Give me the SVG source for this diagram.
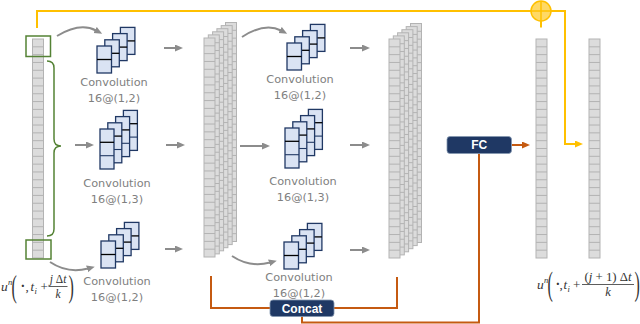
<svg xmlns="http://www.w3.org/2000/svg" width="640" height="324" viewBox="0 0 640 324">
<style>
.lbl{font-family:'DejaVu Sans','Open Sans',sans-serif;font-size:11.3px;fill:#7f7f7f;text-anchor:middle}
.box{fill:#1f3864;stroke:#8497b0;stroke-width:0.8}
.btxt{font-family:'Liberation Sans',Arial,sans-serif;font-weight:bold;fill:#ffffff;text-anchor:middle}
.m{font-family:'Liberation Serif','DejaVu Serif',serif;fill:#333333}
.mi{font-family:'Liberation Serif','DejaVu Serif',serif;font-style:italic;fill:#333333}
.gray{fill:none;stroke:#8c8c8c;stroke-width:2}
.orange{fill:none;stroke:#c55a11;stroke-width:2}
.yellow{fill:none;stroke:#ffc000;stroke-width:2}
.green{fill:none;stroke:#548235;stroke-width:1.5}
</style>
<defs>
<marker id="ag" markerUnits="userSpaceOnUse" markerWidth="9" markerHeight="8" refX="1" refY="3.5" orient="auto"><path d="M0,0 L8,3.5 L0,7 z" fill="#8c8c8c"/></marker>
<marker id="ao" markerUnits="userSpaceOnUse" markerWidth="9" markerHeight="8" refX="1" refY="3.5" orient="auto"><path d="M0,0 L8,3.5 L0,7 z" fill="#c55a11"/></marker>
<marker id="ay" markerUnits="userSpaceOnUse" markerWidth="9" markerHeight="8" refX="1" refY="3.5" orient="auto"><path d="M0,0 L8,3.5 L0,7 z" fill="#ffc000"/></marker>
<g id="col">
<rect x="0" y="0" width="11" height="219" fill="#dcdcdc" stroke="#b3b3b3" stroke-width="1"/>
<path d="M0 7.82h11M0 15.64h11M0 23.46h11M0 31.29h11M0 39.11h11M0 46.93h11M0 54.75h11M0 62.57h11M0 70.39h11M0 78.21h11M0 86.04h11M0 93.86h11M0 101.68h11M0 109.5h11M0 117.32h11M0 125.14h11M0 132.96h11M0 140.79h11M0 148.61h11M0 156.43h11M0 164.25h11M0 172.07h11M0 179.89h11M0 187.71h11M0 195.54h11M0 203.36h11M0 211.18h11" stroke="#b3b3b3" stroke-width="1" fill="none"/>
</g>
<g id="s2">
<rect x="0" y="0" width="14.5" height="27" fill="#dae3f3" stroke="#203864" stroke-width="1.3"/>
<line x1="0" y1="13.5" x2="14.5" y2="13.5" stroke="#000000" stroke-width="1.3"/>
</g>
<g id="s3">
<rect x="0" y="0" width="14" height="40" fill="#dae3f3" stroke="#203864" stroke-width="1.3"/>
<line x1="0" y1="13.3" x2="14" y2="13.3" stroke="#000000" stroke-width="1.3"/>
<line x1="0" y1="26.7" x2="14" y2="26.7" stroke="#203864" stroke-width="1.1"/>
</g>
</defs>
<rect width="640" height="324" fill="#ffffff"/>

<g id="connectors">
<path class="yellow" d="M37 28 V11 H565 V144 H576" marker-end="url(#ay)"/>
<line class="yellow" x1="541" y1="21" x2="541" y2="27.5"/>
<path class="gray" d="M57 36 Q80 22 96 30.5" marker-end="url(#ag)"/>
<path class="gray" d="M50 262 Q68 274 88 268.5" marker-end="url(#ag)"/>
<line class="gray" x1="164" y1="48" x2="176" y2="48" marker-end="url(#ag)"/>
<line class="gray" x1="75" y1="145" x2="87" y2="145" marker-end="url(#ag)"/>
<line class="gray" x1="166" y1="145" x2="178" y2="145" marker-end="url(#ag)"/>
<line class="gray" x1="165" y1="249" x2="176" y2="249" marker-end="url(#ag)"/>
<path class="gray" d="M242 37 Q265 22 281 30.5" marker-end="url(#ag)"/>
<line class="gray" x1="240" y1="146" x2="263" y2="146" marker-end="url(#ag)"/>
<path class="gray" d="M232 256 Q250 268 270 262.5" marker-end="url(#ag)"/>
<line class="gray" x1="350" y1="48" x2="363" y2="48" marker-end="url(#ag)"/>
<line class="gray" x1="350" y1="145" x2="363" y2="145" marker-end="url(#ag)"/>
<line class="gray" x1="350" y1="250" x2="363" y2="250" marker-end="url(#ag)"/>
<path class="orange" d="M211 276 V308 H270"/>
<path class="orange" d="M334 308 H397 V277"/>
<path class="orange" d="M302 316.5 V322.5 H479 V153.5"/>
<line class="orange" x1="511.5" y1="145" x2="523" y2="145" marker-end="url(#ao)"/>
</g>

<g id="input-column">
<use href="#col" x="32.5" y="39"/>
<rect class="green" x="26" y="36" width="24.5" height="20.5"/>
<rect class="green" x="26" y="240" width="25" height="19"/>
<path class="green" d="M47 61 Q54 61 54 68 V139 Q54 146 61 146 Q54 146 54 153 V229 Q54 236 47 236"/>
</g>

<g id="sum">
<circle cx="541" cy="11" r="10" fill="#ffd966" stroke="#ffc000" stroke-width="1.5"/>
<line x1="531" y1="11" x2="551" y2="11" stroke="#ffc000" stroke-width="1.5"/>
<line x1="541" y1="1" x2="541" y2="21" stroke="#ffc000" stroke-width="1.5"/>
</g>

<g id="conv-1a">
<use href="#s2" x="120.4" y="27.4"/><use href="#s2" x="112.6" y="33.6"/><use href="#s2" x="104.8" y="39.8"/><use href="#s2" x="97" y="46"/>
<text class="lbl" x="114" y="86">Convolution</text>
<text class="lbl" x="114" y="101.5">16@(1,2)</text>
</g>
<g id="conv-1b">
<use href="#s3" x="123.4" y="110.4"/><use href="#s3" x="115.6" y="116.6"/><use href="#s3" x="107.8" y="122.8"/><use href="#s3" x="100" y="129"/>
<text class="lbl" x="117" y="187">Convolution</text>
<text class="lbl" x="117" y="202.5">16@(1,3)</text>
</g>
<g id="conv-1c">
<use href="#s2" x="124.4" y="222.4"/><use href="#s2" x="116.6" y="228.6"/><use href="#s2" x="108.8" y="234.8"/><use href="#s2" x="101" y="241"/>
<text class="lbl" x="117" y="285">Convolution</text>
<text class="lbl" x="117" y="300.5">16@(1,2)</text>
</g>

<g id="stack-1">
<use href="#col" x="225.5" y="22.5"/><use href="#col" x="221.2" y="25.6"/><use href="#col" x="216.9" y="28.7"/><use href="#col" x="212.6" y="31.8"/><use href="#col" x="208.3" y="34.9"/><use href="#col" x="204" y="38"/>
</g>

<g id="conv-2a">
<use href="#s2" x="310.4" y="24.4"/><use href="#s2" x="302.6" y="30.6"/><use href="#s2" x="294.8" y="36.8"/><use href="#s2" x="287" y="43"/>
<text class="lbl" x="300" y="83">Convolution</text>
<text class="lbl" x="300" y="98.5">16@(1,2)</text>
</g>
<g id="conv-2b">
<use href="#s3" x="308.4" y="109.4"/><use href="#s3" x="300.6" y="115.6"/><use href="#s3" x="292.8" y="121.8"/><use href="#s3" x="285" y="128"/>
<text class="lbl" x="303" y="185">Convolution</text>
<text class="lbl" x="303" y="200.5">16@(1,3)</text>
</g>
<g id="conv-2c">
<use href="#s2" x="307.4" y="223.4"/><use href="#s2" x="299.6" y="229.6"/><use href="#s2" x="291.8" y="235.8"/><use href="#s2" x="284" y="242"/>
<text class="lbl" x="299" y="281">Convolution</text>
<text class="lbl" x="299" y="296.5">16@(1,2)</text>
</g>

<g id="stack-2">
<use href="#col" x="410.5" y="23.5"/><use href="#col" x="406.2" y="26.6"/><use href="#col" x="401.9" y="29.7"/><use href="#col" x="397.6" y="32.8"/><use href="#col" x="393.3" y="35.9"/><use href="#col" x="389" y="39"/>
</g>

<g id="concat">
<rect class="box" x="270" y="300" width="64" height="16.5" rx="3"/>
<text class="btxt" x="302" y="312.5" font-size="12">Concat</text>
</g>

<g id="fc">
<rect class="box" x="447" y="136.5" width="64.5" height="17" rx="3"/>
<text class="btxt" x="479.2" y="149.3" font-size="12">FC</text>
</g>

<g id="fc-output">
<use href="#col" x="536" y="39"/>
</g>
<g id="output-column">
<use href="#col" x="589" y="39"/>
</g>

<g id="formula-in">
<text class="mi" x="1" y="291" font-size="13.5">u</text>
<text class="mi" x="8" y="285" font-size="8.5">n</text>
<text class="m" transform="translate(11.5,296.5) scale(1,2)" font-size="16">(</text>
<text class="m" x="20.5" y="291" font-size="14" font-weight="bold">·</text>
<text class="m" x="25.5" y="291" font-size="13">,</text>
<text class="mi" x="30.5" y="291" font-size="13">t</text>
<text class="mi" x="34.5" y="294" font-size="8.5">i</text>
<text class="m" x="40.5" y="291" font-size="13">+</text>
<text class="mi" x="58" y="282.5" font-size="11.5" text-anchor="middle">j <tspan font-style="normal">Δ</tspan>t</text>
<line x1="48.5" y1="286.5" x2="67.5" y2="286.5" stroke="#333333" stroke-width="0.8"/>
<text class="mi" x="58" y="298" font-size="11.5" text-anchor="middle">k</text>
<text class="m" transform="translate(68.5,296.5) scale(1,2)" font-size="16">)</text>
</g>

<g id="formula-out">
<text class="mi" x="537" y="289" font-size="13.5">u</text>
<text class="mi" x="544" y="283" font-size="8.5">n</text>
<text class="m" transform="translate(547.5,295) scale(1,2.1)" font-size="16">(</text>
<text class="m" x="555.5" y="289" font-size="14" font-weight="bold">·</text>
<text class="m" x="559.5" y="289" font-size="13">,</text>
<text class="mi" x="563.5" y="289" font-size="13">t</text>
<text class="mi" x="567.5" y="292" font-size="8.5">i</text>
<text class="m" x="573" y="289" font-size="13">+</text>
<text class="m" x="608" y="280.5" font-size="12.8" text-anchor="middle">(<tspan font-style="italic">j</tspan> + 1) Δ<tspan font-style="italic">t</tspan></text>
<line x1="582" y1="284.5" x2="634" y2="284.5" stroke="#333333" stroke-width="0.8"/>
<text class="mi" x="608" y="296" font-size="12.5" text-anchor="middle">k</text>
<text class="m" transform="translate(634.5,295) scale(1,2.1)" font-size="16">)</text>
</g>
</svg>
